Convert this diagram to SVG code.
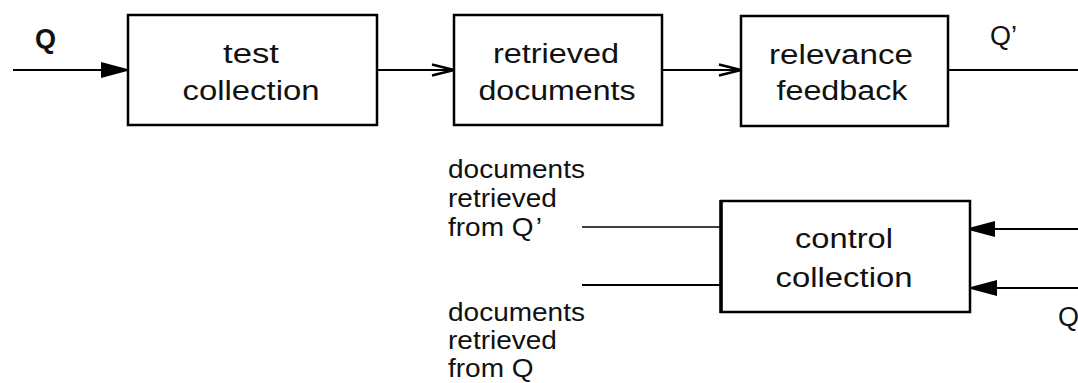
<svg xmlns="http://www.w3.org/2000/svg" width="1078" height="383" viewBox="0 0 1078 383">
<style>
text{font-family:"Liberation Sans",Arial,sans-serif;fill:#111}
.bt{font-size:27px;text-anchor:middle}
.st{font-size:25px}
.box{fill:#fff;stroke:#000;stroke-width:2.5}
.ln{stroke:#000;stroke-width:2.2;fill:none}
.thin{stroke:#000;stroke-width:1.3;fill:none}
</style>
<defs>
<marker id="fill" markerUnits="userSpaceOnUse" markerWidth="32" markerHeight="18" refX="30" refY="8" orient="auto">
<path d="M0,0 L30,8 L0,16 Z" fill="#000"/>
</marker>
<marker id="open" markerUnits="userSpaceOnUse" markerWidth="26" markerHeight="16" refX="23" refY="7" orient="auto">
<path d="M1,1.5 L23,7 L1,12.5" fill="none" stroke="#000" stroke-width="2.4"/>
</marker>
</defs>
<g id="connectors">
<line class="ln" x1="13" y1="70" x2="131" y2="70" marker-end="url(#fill)"/>
<line class="ln" x1="377" y1="70" x2="454" y2="70" marker-end="url(#open)"/>
<line class="ln" x1="662" y1="70" x2="741" y2="70" marker-end="url(#open)"/>
<line class="ln" x1="948" y1="70" x2="1078" y2="70"/>
<line class="thin" x1="582" y1="227" x2="721" y2="227"/>
<line class="ln" x1="582" y1="285" x2="721" y2="285"/>
<line class="ln" x1="1078" y1="229" x2="965" y2="229" marker-end="url(#fill)"/>
<line class="ln" x1="1078" y1="288" x2="967" y2="288" marker-end="url(#fill)"/>
</g>
<g id="test-collection">
<rect class="box" x="128" y="15" width="249" height="110"/>
<text class="bt" x="251" y="63" textLength="56" lengthAdjust="spacingAndGlyphs">test</text>
<text class="bt" x="251" y="100" textLength="137" lengthAdjust="spacingAndGlyphs">collection</text>
</g>
<g id="retrieved-documents">
<rect class="box" x="454" y="15" width="208" height="110"/>
<text class="bt" x="556" y="63" textLength="126" lengthAdjust="spacingAndGlyphs">retrieved</text>
<text class="bt" x="557" y="100" textLength="157" lengthAdjust="spacingAndGlyphs">documents</text>
</g>
<g id="relevance-feedback">
<rect class="box" x="741" y="16" width="207" height="110"/>
<text class="bt" x="841" y="64" textLength="144" lengthAdjust="spacingAndGlyphs">relevance</text>
<text class="bt" x="842" y="100" textLength="131" lengthAdjust="spacingAndGlyphs">feedback</text>
</g>
<g id="control-collection">
<rect class="box" x="721" y="201" width="249" height="111"/>
<line x1="721" y1="200" x2="721" y2="313" stroke="#000" stroke-width="3.5"/>
<text class="bt" x="844" y="248" textLength="98" lengthAdjust="spacingAndGlyphs">control</text>
<text class="bt" x="844" y="287" textLength="137" lengthAdjust="spacingAndGlyphs">collection</text>
</g>
<g id="labels">
<text x="35" y="48" style="font-size:27px;font-weight:bold">Q</text>
<text x="990" y="45" style="font-size:27px">Q’</text>
<text x="1058" y="326" style="font-size:27px">Q</text>
<g transform="translate(448,0) scale(1.12,1)">
<text class="st" x="0" y="178">documents</text>
<text class="st" x="0" y="207">retrieved</text>
<text class="st" x="0" y="236">from Q<tspan dx="2">’</tspan></text>
<text class="st" x="0" y="321">documents</text>
<text class="st" x="0" y="349">retrieved</text>
<text class="st" x="0" y="377">from Q</text>
</g>
</g>
</svg>
